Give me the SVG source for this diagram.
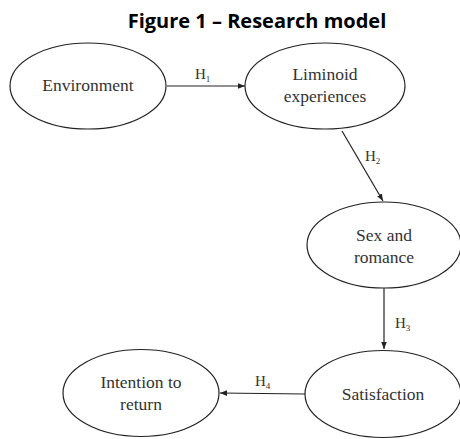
<svg xmlns="http://www.w3.org/2000/svg" width="460" height="439" viewBox="0 0 460 439">
<style>
.node ellipse{fill:#fff;stroke:#222;stroke-width:1.2}
.lbl{font-family:"Liberation Serif",serif;font-size:17.5px;fill:#333;text-anchor:middle}
.h{font-family:"Liberation Serif",serif;font-size:15px;fill:#333}
.sub{font-size:9px}
.edge{stroke:#222;stroke-width:1.2;fill:none;marker-end:url(#ah)}
.title{font-family:"Open Sans","Liberation Sans",sans-serif;font-weight:bold;font-size:20px;fill:#000;text-anchor:middle}
</style>
<defs>
<marker id="ah" viewBox="0 0 10 10" refX="10" refY="5" markerWidth="7" markerHeight="7" markerUnits="userSpaceOnUse" orient="auto">
<path d="M0,1 L10,5 L0,9 Z" fill="#222"/>
</marker>
</defs>
<rect width="460" height="439" fill="#fff"/>
<text class="title" x="257" y="28">Figure 1 – Research model</text>
<g id="connectors">
<line class="edge" x1="167" y1="86" x2="245" y2="86"/>
<line class="edge" x1="342" y1="131" x2="383" y2="201"/>
<line class="edge" x1="384" y1="288" x2="384" y2="349"/>
<line class="edge" x1="305" y1="394" x2="220" y2="393"/>
<text class="h" x="195" y="79">H<tspan class="sub" dy="3">1</tspan></text>
<text class="h" x="365" y="161">H<tspan class="sub" dy="3">2</tspan></text>
<text class="h" x="395" y="328">H<tspan class="sub" dy="3">3</tspan></text>
<text class="h" x="255" y="386">H<tspan class="sub" dy="3">4</tspan></text>
</g>
<g id="environment" class="node">
<ellipse cx="88" cy="86" rx="78" ry="43"/>
<text class="lbl" x="88" y="91">Environment</text>
</g>
<g id="liminoid" class="node">
<ellipse cx="325" cy="86" rx="80" ry="43"/>
<text class="lbl" x="325" y="80">Liminoid</text>
<text class="lbl" x="325" y="102">experiences</text>
</g>
<g id="sex" class="node">
<ellipse cx="384" cy="245" rx="77" ry="43"/>
<text class="lbl" x="384" y="241">Sex and</text>
<text class="lbl" x="384" y="263">romance</text>
</g>
<g id="satisfaction" class="node">
<ellipse cx="383" cy="394" rx="78" ry="43.5"/>
<text class="lbl" x="383" y="400">Satisfaction</text>
</g>
<g id="intention" class="node">
<ellipse cx="141" cy="393" rx="78" ry="43.5"/>
<text class="lbl" x="141" y="388">Intention to</text>
<text class="lbl" x="141" y="410">return</text>
</g>
</svg>
